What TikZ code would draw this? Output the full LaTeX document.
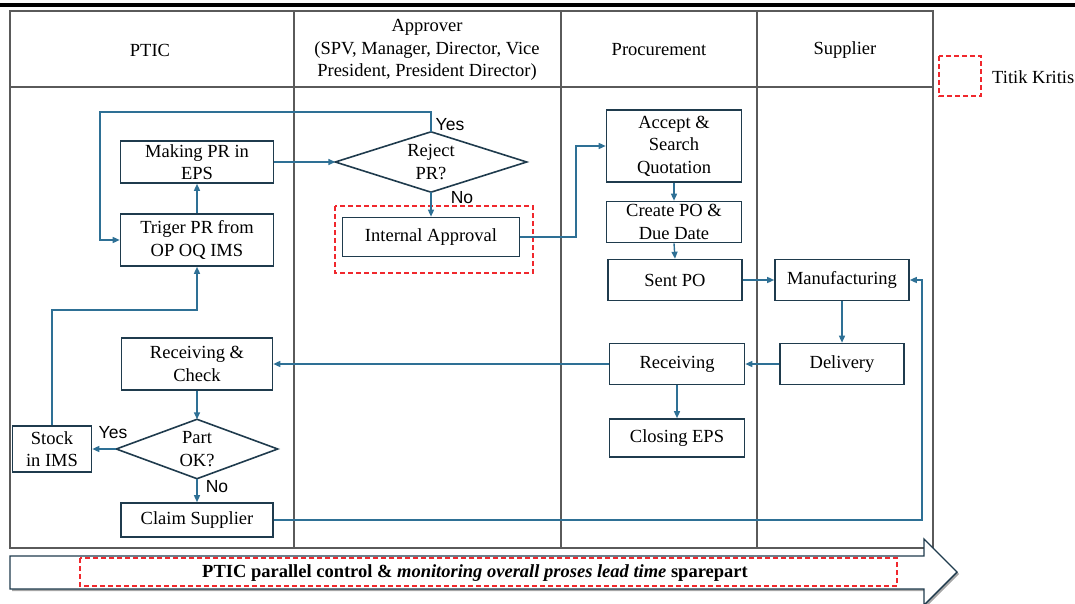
\documentclass[tikz,border=0pt]{standalone}
\usepackage{fontspec}
\setmainfont{Liberation Serif}
\newfontfamily\arialf{Liberation Sans}
\usetikzlibrary{arrows.meta}
\definecolor{conn}{HTML}{2E7095}
\definecolor{boxc}{HTML}{1F3B4D}
\definecolor{gridc}{HTML}{5A5A5A}
\definecolor{crit}{HTML}{F0282D}
\begin{document}
\begin{tikzpicture}[x=1pt,y=-1pt,
  font=\fontsize{18.5}{22.5}\selectfont,
  procbox/.style={draw=boxc,line width=1.6pt,align=center,inner sep=0pt,fill=white},
  decbox/.style={inner sep=0pt,align=center,minimum width=#1},
  flow/.style={draw=conn,line width=1.4pt,-{Triangle[length=7pt,width=6pt]}},
  critbox/.style={draw=crit,line width=1.5pt,dash pattern=on 5pt off 3pt},
  lbl/.style={font=\arialf\fontsize{17.5}{19}\selectfont,inner sep=0pt},
  lane/.style={draw=gridc,line width=1.2pt},
  hdr/.style={align=center,inner sep=0pt},
]
\useasboundingbox (0,0) rectangle (1075,604);
% top rule
\draw[line width=3.5pt] (0,5) -- (1075,5);
% swimlane table
\draw[lane,line width=1.8pt] (10,11) rectangle (933,548);
\draw[lane] (10,87) -- (933,87);
\draw[lane] (294,11) -- (294,548);
\draw[lane] (561,11) -- (561,548);
\draw[lane] (757,11) -- (757,548);
\node[hdr] (h1) at (150,50) {PTIC};
\node[hdr] (h2) at (427,50) {Approver\\(SPV, Manager, Director, Vice\\President, President Director)};
\node[hdr] (h3) at (659,50) {Procurement};
\node[hdr] (h4) at (845,50) {Supplier};
% legend
\draw[critbox] (939,56) rectangle (981,96);
\node[anchor=west,inner sep=0pt] (leg) at (992,77) {Titik Kritis};
% critical area
\draw[critbox] (335,206) rectangle (533,273);
% nodes
\node[procbox,minimum width=153pt,minimum height=42pt] (mk) at (197,162) {Making PR in\\EPS};
\node[procbox,minimum width=153pt,minimum height=52pt] (tr) at (197,240) {Triger PR from\\OP OQ IMS};
\node[decbox=191pt,minimum height=60pt] (rej) at (431,162) {Reject\\PR?};
\draw[draw=boxc,line width=1.6pt] (rej.west) -- (rej.north) -- (rej.east) -- (rej.south) -- cycle;
\node[procbox,minimum width=177pt,minimum height=39pt] (ia) at (431,237) {Internal Approval};
\node[procbox,minimum width=135pt,minimum height=72pt] (acc) at (674,146) {Accept \&\\Search\\Quotation};
\node[procbox,minimum width=135pt,minimum height=41pt] (cpo) at (674,222) {Create PO \&\\Due Date};
\node[procbox,minimum width=134pt,minimum height=41pt] (sent) at (675,280) {Sent PO};
\node[procbox,minimum width=134pt,minimum height=41pt] (man) at (842,280) {Manufacturing};
\node[procbox,minimum width=124pt,minimum height=41pt] (del) at (842,364) {Delivery};
\node[procbox,minimum width=135pt,minimum height=41pt] (rcv) at (677,364) {Receiving};
\node[procbox,minimum width=135pt,minimum height=38pt] (close) at (677,438) {Closing EPS};
\node[procbox,minimum width=151pt,minimum height=52pt] (rc) at (197,364) {Receiving \&\\Check};
\node[decbox=161pt,minimum height=59pt] (ok) at (197,449) {Part\\OK?};
\draw[draw=boxc,line width=1.6pt] (ok.west) -- (ok.north) -- (ok.east) -- (ok.south) -- cycle;
\node[procbox,minimum width=79pt,minimum height=46pt] (stock) at (52,449) {Stock\\in IMS};
\node[procbox,minimum width=152pt,minimum height=34pt] (claim) at (197,520) {Claim Supplier};
% helper coordinates
\coordinate (yl) at (100,112);
\coordinate (c1) at (576,0);
\coordinate (c2) at (0,310);
\coordinate (c3) at (922,0);
% connectors
\draw[flow] (tr.north) -- (mk.south);
\draw[flow] (mk.east) -- (rej.west);
\draw[flow] (rej.north) |- (yl) |- (tr.west);
\draw[flow] (rej.south) -- (ia.north);
\draw[flow] (ia.east) -- (ia.east -| c1) |- (acc.west);
\draw[flow] (acc.south) -- (cpo.north);
\draw[flow] (cpo.south) -- (sent.north);
\draw[flow] (sent.east) -- (man.west);
\draw[flow] (man.south) -- (del.north);
\draw[flow] (del.west) -- (rcv.east);
\draw[flow] (rcv.south) -- (close.north);
\draw[flow] (rcv.west) -- (rc.east);
\draw[flow] (rc.south) -- (ok.north);
\draw[flow] (ok.west) -- (stock.east);
\draw[flow] (ok.south) -- (claim.north);
\draw[flow] (stock.north) -- (stock.north |- c2) -- (tr.south |- c2) -- (tr.south);
\draw[flow] (claim.east) -- (claim.east -| c3) |- (man.east);
% labels
\node[lbl] (yes1) at (450,125) {Yes};
\node[lbl] (no1) at (462,198) {No};
\node[lbl] (yes2) at (113,433) {Yes};
\node[lbl] (no2) at (217,487) {No};
% bottom block arrow
\fill[gray!70] (12,558) -- (926,558) -- (926,541) -- (959,574) -- (926,607) -- (926,591) -- (12,591) -- cycle;
\draw[draw=boxc,line width=1.4pt,fill=white] (10,556) -- (924,556) -- (924,539) -- (957,572) -- (924,605) -- (924,589) -- (10,589) -- cycle;
\draw[critbox] (80,558) rectangle (897,586);
\node[inner sep=0pt] (bt) at (475,573) {\bfseries PTIC parallel control \& \textit{monitoring overall proses lead time} sparepart};
\end{tikzpicture}
\end{document}
